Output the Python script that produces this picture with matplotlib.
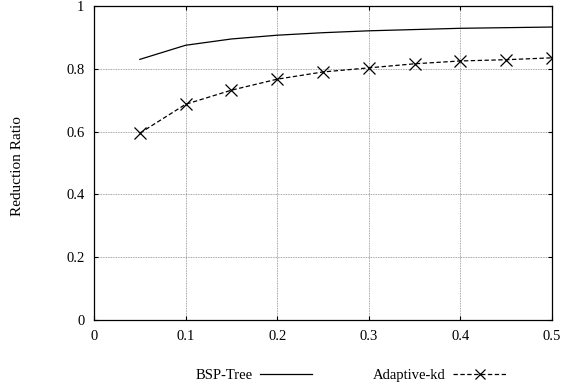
import matplotlib; matplotlib.use("Agg")
import matplotlib.pyplot as plt
import numpy as np

plt.rcParams["font.family"] = ["Liberation Serif", "DejaVu Serif"]
plt.rcParams["font.size"] = 10.5

x = [0.05, 0.1, 0.15, 0.2, 0.25, 0.3, 0.35, 0.4, 0.45, 0.5]
bsp = [0.83, 0.875, 0.895, 0.907, 0.915, 0.921, 0.925, 0.929, 0.931, 0.933]
adaptive = [0.595, 0.687, 0.732, 0.767, 0.79, 0.803, 0.816, 0.825, 0.829, 0.835]

fig = plt.figure(figsize=(5.75, 3.87), dpi=100)
ax = fig.add_axes([0.1635, 0.173, 0.7965, 0.8115])
ax.plot(x, bsp, color="black", lw=0.9, label="BSP-Tree")
ax.plot(x, adaptive, color="black", lw=0.9, ls=(0, (3.5, 2)), marker="x", ms=8.5,
        mew=0.9, label="Adaptive-kd")
ax.set_xlim(0, 0.5); ax.set_ylim(0, 1)
ax.set_xticks(np.arange(0, 0.51, 0.1))
ax.set_xticklabels(["0", "0.1", "0.2", "0.3", "0.4", "0.5"])
ax.set_yticks(np.arange(0, 1.01, 0.2))
ax.set_yticklabels(["0", "0.2", "0.4", "0.6", "0.8", "1"])
ax.grid(color="#888888", ls=(0, (1, 1)), lw=0.6)
ax.tick_params(axis="x", direction="in", length=3, top=True, pad=7)
ax.tick_params(axis="y", direction="in", length=3, right=True, pad=7)
for s in ax.spines.values():
    s.set_linewidth(0.9)
fig.text(18 / 575, 1 - 166 / 387, "Reduction Ratio", rotation=90, ha="center",
         va="center", fontsize=11)
ax.legend(loc="upper center", bbox_to_anchor=(0.56, -0.115), ncol=2, frameon=False,
          markerfirst=False, handlelength=3.6, handletextpad=0.5, columnspacing=4.2,
          markerscale=0.8)
fig.savefig("out.png", dpi=100)
